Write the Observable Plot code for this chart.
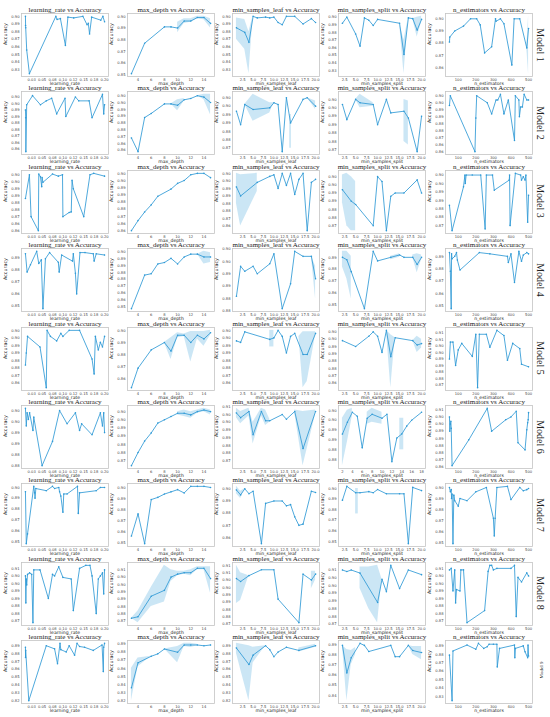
<!DOCTYPE html>
<html><head><meta charset="utf-8">
<script src="https://cdn.jsdelivr.net/npm/d3@7"></script>
<script src="https://cdn.jsdelivr.net/npm/@observablehq/plot@0.6"></script>
<style>
body{margin:0;background:#fff;}
#wrap{position:relative;width:550px;height:717px;overflow:hidden;background:#fff;}
.pnl{position:absolute;}
.mlab{position:absolute;font-family:"Liberation Serif",serif;color:#222;white-space:nowrap;}
</style></head>
<body><div id="wrap"></div>
<script>
// ---------- hyper-parameter columns ----------
const colTitles = ["learning_rate vs Accuracy","max_depth vs Accuracy","min_samples_leaf vs Accuracy","min_samples_split vs Accuracy","n_estimators vs Accuracy"];
const colLabels = ["learning_rate","max_depth","min_samples_leaf","min_samples_split","n_estimators"];
const modelNames = ["Model 1","Model 2","Model 3","Model 4","Model 5","Model 6","Model 7","Model 8","Model 9"];

const lrTicks = [0.025,0.05,0.075,0.1,0.125,0.15,0.175,0.2];
const lrTickLabels = ["0.03","0.05","0.08","0.10","0.12","0.15","0.18","0.20"];
const mdTicks = [4,6,8,10,12,14];
const mdTickLabels = ["4","6","8","10","12","14"];
const leafTicks = [2.5,5,7.5,10,12.5,15,17.5,20];
const leafTickLabels = ["2.5","5.0","7.5","10.0","12.5","15.0","17.5","20.0"];
const splitTicks6 = [2,4,6,8,10,12,14,16,18];
const splitTickLabels6 = ["2","4","6","8","10","12","14","16","18"];
const neTicks = [100,200,300,400,500];
const neTickLabels = ["100","200","300","400","500"];

// ---------- Model 1 ----------
const m1_lr = [[0.010,0.900],[0.0103,0.888],[0.0106,0.885],[0.013,0.856],[0.0195,0.825],[0.083,0.900],[0.086,0.896],[0.094,0.897],[0.106,0.862],[0.112,0.899],[0.126,0.898],[0.148,0.900],[0.158,0.889],[0.161,0.891],[0.164,0.877],[0.169,0.899],[0.191,0.895],[0.196,0.900],[0.200,0.893]];
const m1_md = [[3,0.851],[5,0.877],[8,0.891],[9,0.891],[10,0.890],[11,0.896],[12,0.896],[13,0.899],[14,0.899],[15,0.894]];
const m1_md_band = [[10,0.886,0.895],[11,0.894,0.898],[12,0.895,0.898],[13,0.898,0.900],[14,0.897,0.900],[15,0.890,0.898]];
const m1_msl = [[1,0.885],[3,0.879],[4,0.866],[5,0.900],[6,0.898],[8,0.899],[9,0.898],[10,0.899],[11,0.892],[12,0.889],[13,0.900],[15,0.900],[17,0.890],[19,0.897],[20,0.892]];
const m1_msl_band = [[1,0.870,0.898],[3,0.857,0.896],[4,0.825,0.880],[5,0.900,0.900]];
const m1_mss = [[2,0.892],[3,0.900],[5,0.878],[6,0.862],[7,0.899],[8,0.896],[9,0.889],[10,0.897],[15,0.892],[16,0.851],[17,0.899],[18,0.898],[19,0.883],[20,0.897]];
const m1_mss_band = [[15,0.892,0.892],[16,0.826,0.870],[17,0.899,0.899],null,[18,0.898,0.898],[19,0.874,0.900],[20,0.893,0.901]];
const m1_ne = [[50,0.881],[52,0.885],[80,0.890],[130,0.894],[170,0.900],[205,0.900],[225,0.895],[250,0.872],[290,0.877],[312,0.900],[315,0.898],[340,0.900],[360,0.896],[405,0.862],[418,0.900],[450,0.900],[490,0.876],[500,0.892]];
const m1_ne_band = [[490,0.876,0.876],[500,0.855,0.902]];

// ---------- Model 2 ----------
const m2_lr = [[0.010,0.890],[0.0105,0.884],[0.011,0.858],[0.013,0.894],[0.027,0.901],[0.046,0.894],[0.060,0.897],[0.073,0.899],[0.085,0.887],[0.105,0.899],[0.107,0.885],[0.130,0.900],[0.138,0.897],[0.163,0.897],[0.170,0.884],[0.195,0.902],[0.198,0.887],[0.200,0.894]];
const m2_md = [[3,0.869],[4,0.859],[5,0.884],[6,0.887],[8,0.894],[9,0.894],[10,0.893],[11,0.897],[12,0.898],[13,0.900],[14,0.899],[15,0.895]];
const m2_md_band = [[9,0.894,0.894],[10,0.889,0.897],[11,0.896,0.898],null,[13,0.900,0.900],[14,0.897,0.901],[15,0.886,0.901]];
const m2_msl = [[1,0.892],[2,0.884],[3,0.896],[5,0.893],[9,0.894],[10,0.897],[11,0.896],[12,0.868],[13,0.900],[14,0.885],[17,0.899],[18,0.900],[20,0.895]];
const m2_msl_band = [[3,0.896,0.896],[5,0.886,0.902],[9,0.891,0.897],[10,0.897,0.897],null,[13.8,0.870,0.890],[14.2,0.870,0.890],null,[18,0.900,0.900],[20,0.893,0.898]];
const m2_mss = [[2,0.897],[3,0.888],[5,0.900],[6,0.898],[9,0.897],[10,0.885],[12,0.900],[13,0.892],[16,0.893],[17,0.889],[19,0.869],[20,0.890]];
const m2_mss_band = [[5,0.900,0.900],[6,0.895,0.903],[9,0.896,0.898],null,[16,0.875,0.900],[17,0.873,0.899]];
const m2_ne = [[50,0.893],[55,0.900],[195,0.860],[200,0.884],[205,0.900],[265,0.895],[290,0.887],[315,0.897],[325,0.897],[340,0.901],[360,0.887],[385,0.897],[420,0.868],[425,0.900],[445,0.897],[448,0.885],[455,0.892],[465,0.892],[475,0.901],[490,0.897],[500,0.897]];

// ---------- Model 3 ----------
const m3_lr = [[0.010,0.883],[0.0195,0.900],[0.0235,0.870],[0.041,0.860],[0.042,0.9005],[0.046,0.8986],[0.049,0.8915],[0.050,0.898],[0.052,0.8946],[0.075,0.9005],[0.089,0.899],[0.099,0.900],[0.100,0.870],[0.115,0.873],[0.120,0.8734],[0.122,0.896],[0.125,0.890],[0.150,0.870],[0.165,0.900],[0.174,0.901],[0.200,0.899]];
const m3_md = [[3,0.860],[4,0.867],[5,0.873],[6,0.878],[7,0.884],[9,0.889],[10,0.893],[11,0.895],[12,0.899],[13,0.900],[14,0.900],[15,0.897]];
const m3_msl = [[1,0.891],[2,0.885],[6,0.894],[9,0.898],[10,0.899],[11,0.890],[12,0.900],[13,0.892],[14,0.900],[15,0.886],[16,0.896],[17,0.900],[18,0.862],[19,0.894],[20,0.896]];
const m3_msl_band = [[1,0.880,0.900],[2,0.865,0.899],[6,0.888,0.900]];
const m3_mss = [[2,0.892],[4,0.885],[5,0.883],[9,0.870],[10,0.900],[11,0.897],[12,0.867],[13,0.888],[14,0.890],[16,0.890],[19,0.898],[20,0.890]];
const m3_mss_band = [[2,0.884,0.901],[3,0.870,0.902],[4,0.867,0.900],[5,0.867,0.897]];
const m3_ne = [[50,0.882],[65,0.867],[130,0.893],[138,0.900],[140,0.895],[145,0.900],[180,0.900],[228,0.900],[253,0.868],[260,0.900],[295,0.900],[305,0.891],[390,0.897],[392,0.900],[395,0.870],[425,0.901],[455,0.900],[460,0.897],[470,0.899],[480,0.897],[485,0.900],[495,0.872],[500,0.888]];

// ---------- Model 4 ----------
const m4_lr = [[0.010,0.893],[0.014,0.878],[0.022,0.884],[0.037,0.895],[0.042,0.885],[0.048,0.888],[0.052,0.848],[0.058,0.889],[0.068,0.894],[0.089,0.886],[0.091,0.878],[0.097,0.892],[0.123,0.887],[0.125,0.893],[0.130,0.877],[0.133,0.860],[0.141,0.894],[0.153,0.894],[0.173,0.893],[0.175,0.887],[0.180,0.893],[0.200,0.892]];
const m4_md = [[3,0.854],[5,0.878],[6,0.879],[7,0.886],[8,0.887],[9,0.890],[10,0.886],[11,0.891],[12,0.893],[13,0.893],[14,0.891],[15,0.891]];
const m4_md_band = [[13,0.893,0.893],[14,0.886,0.895],[15,0.887,0.894]];
const m4_msl = [[1,0.881],[2,0.893],[3,0.891],[5,0.893],[6,0.890],[9,0.894],[10,0.898],[12,0.876],[14,0.886],[15,0.899],[17,0.897],[19,0.897],[20,0.888]];
const m4_msl_band = [[19,0.897,0.897],[20,0.880,0.893]];
const m4_mss = [[2,0.890],[3,0.888],[4,0.878],[7,0.847],[9,0.895],[10,0.887],[13,0.890],[15,0.892],[16,0.890],[18,0.890],[19,0.884],[20,0.890]];
const m4_mss_band = [[2,0.882,0.895],[3,0.872,0.895],[4,0.855,0.891],null,[13,0.888,0.891],[15,0.890,0.893],null,[18,0.890,0.892],[19,0.877,0.893],[20,0.888,0.892]];
const m4_ne = [[50,0.893],[55,0.878],[60,0.848],[62,0.892],[65,0.888],[80,0.890],[90,0.893],[95,0.887],[110,0.879],[220,0.893],[280,0.892],[380,0.890],[385,0.885],[400,0.892],[420,0.869],[445,0.894],[460,0.886],[470,0.891],[490,0.893],[500,0.892]];

// ---------- Model 5 ----------
const m5_lr = [[0.010,0.877],[0.012,0.885],[0.015,0.896],[0.045,0.889],[0.060,0.862],[0.062,0.900],[0.070,0.896],[0.085,0.893],[0.095,0.898],[0.100,0.896],[0.115,0.900],[0.140,0.900],[0.170,0.881],[0.175,0.871],[0.178,0.896],[0.185,0.887],[0.190,0.892],[0.195,0.889],[0.200,0.896]];
const m5_md = [[3,0.853],[4,0.869],[6,0.884],[8,0.890],[9,0.883],[10,0.896],[11,0.896],[12,0.890],[13,0.896],[14,0.893],[15,0.898]];
const m5_md_band = [[8,0.890,0.890],[9,0.876,0.894],[10,0.894,0.898],[11,0.895,0.897],[12,0.874,0.899],[13,0.893,0.899],[14,0.887,0.899],[15,0.896,0.900]];
const m5_msl = [[1,0.893],[2,0.892],[3,0.899],[9,0.894],[10,0.895],[11,0.900],[12,0.896],[13,0.885],[14,0.896],[15,0.898],[17,0.884],[18,0.884],[20,0.898]];
const m5_msl_band = [[9,0.889,0.900],[10,0.889,0.900],null,[16,0.896,0.896],[17,0.862,0.899],[18,0.866,0.899],[20,0.897,0.899]];
const m5_mss = [[2,0.894],[5,0.890],[8,0.897],[9,0.900],[10,0.897],[11,0.886],[12,0.901],[13,0.883],[14,0.896],[18,0.894],[19,0.891],[20,0.892]];
const m5_mss_band = [[12,0.901,0.901],[13,0.862,0.898],[14,0.896,0.896],null,[18,0.894,0.894],[19,0.886,0.897],[20,0.889,0.895]];
const m5_ne = [[50,0.890],[55,0.903],[70,0.903],[85,0.885],[100,0.897],[120,0.902],[180,0.892],[200,0.909],[210,0.868],[220,0.909],[260,0.909],[280,0.899],[320,0.912],[360,0.908],[380,0.889],[410,0.902],[450,0.898],[460,0.886],[500,0.884]];

// ---------- Model 6 ----------
const m6_lr = [[0.010,0.901],[0.012,0.893],[0.014,0.899],[0.017,0.896],[0.020,0.899],[0.028,0.891],[0.030,0.897],[0.050,0.875],[0.075,0.886],[0.092,0.900],[0.110,0.894],[0.130,0.899],[0.140,0.891],[0.145,0.894],[0.170,0.889],[0.190,0.899],[0.195,0.893],[0.198,0.899],[0.200,0.890]];
const m6_md = [[3,0.867],[4,0.875],[5,0.882],[6,0.887],[7,0.893],[8,0.895],[9,0.897],[10,0.899],[11,0.899],[12,0.898],[13,0.900],[14,0.901],[15,0.900]];
const m6_md_band = [[10,0.898,0.900],[11,0.897,0.901],[12,0.896,0.900],[13,0.899,0.901],[14,0.900,0.902],[15,0.898,0.901]];
const m6_msl = [[1,0.901],[2,0.898],[4,0.902],[5,0.887],[7,0.902],[8,0.896],[9,0.896],[12,0.900],[13,0.897],[15,0.902],[17,0.878],[20,0.902]];
const m6_msl_band = [[1,0.898,0.904],[2,0.894,0.902],[4,0.899,0.904],[5,0.881,0.895],[7,0.899,0.904],[8,0.893,0.903],[9,0.895,0.897],null,[15,0.901,0.903],[17,0.867,0.902],[20,0.900,0.903]];
const m6_mss = [[2,0.888],[3,0.894],[4,0.899],[5,0.897],[6,0.881],[7,0.896],[8,0.898],[10,0.896],[11,0.898],[12,0.874],[13,0.886],[14,0.888],[15,0.892],[16,0.895],[18,0.899]];
const m6_mss_band = [[2,0.872,0.896],[3,0.884,0.900],[4,0.897,0.901],null,[7,0.893,0.899],[8,0.894,0.901],[10,0.893,0.899],null,[13.6,0.880,0.896],[14.4,0.880,0.896]];
const m6_ne = [[50,0.900],[52,0.890],[55,0.895],[58,0.897],[60,0.892],[65,0.866],[160,0.884],[265,0.906],[290,0.890],[370,0.898],[400,0.900],[430,0.904],[440,0.882],[480,0.877],[490,0.891],[495,0.896],[498,0.898],[500,0.903]];

// ---------- Model 7 ----------
const m7_lr = [[0.010,0.896],[0.012,0.848],[0.015,0.857],[0.030,0.901],[0.032,0.895],[0.033,0.890],[0.035,0.899],[0.060,0.897],[0.075,0.901],[0.080,0.899],[0.090,0.900],[0.092,0.896],[0.095,0.892],[0.100,0.877],[0.102,0.894],[0.110,0.894],[0.135,0.901],[0.137,0.876],[0.140,0.895],[0.180,0.897],[0.190,0.900],[0.200,0.900]];
const m7_md = [[3,0.856],[4,0.876],[5,0.849],[6,0.889],[7,0.891],[8,0.894],[9,0.896],[10,0.898],[11,0.895],[12,0.901],[13,0.901],[14,0.901],[15,0.900]];
const m7_msl = [[1,0.899],[2,0.895],[3,0.900],[4,0.896],[5,0.898],[7,0.855],[8,0.888],[10,0.890],[12,0.890],[13,0.886],[14,0.887],[15,0.877],[16,0.870],[17,0.871],[19,0.898],[20,0.897]];
const m7_msl_band = [[1,0.896,0.902],[2,0.892,0.898],[3,0.900,0.900]];
const m7_mss = [[2,0.889],[3,0.902],[5,0.896],[6,0.896],[8,0.897],[9,0.896],[10,0.899],[12,0.895],[15,0.895],[16,0.895],[17,0.848],[18,0.901],[20,0.898]];
const m7_mss_band = [[5,0.876,0.900],[5.6,0.876,0.900]];
const m7_ne = [[50,0.900],[55,0.896],[60,0.898],[62,0.890],[65,0.894],[70,0.849],[75,0.893],[80,0.888],[100,0.883],[110,0.890],[150,0.888],[200,0.896],[260,0.900],[300,0.872],[305,0.856],[310,0.872],[320,0.900],[380,0.901],[400,0.889],[450,0.900],[470,0.897],[490,0.898],[500,0.899]];

// ---------- Model 8 ----------
const m8_lr = [[0.010,0.900],[0.011,0.882],[0.012,0.898],[0.013,0.894],[0.015,0.901],[0.020,0.902],[0.025,0.901],[0.028,0.869],[0.030,0.904],[0.045,0.904],[0.065,0.885],[0.075,0.901],[0.080,0.900],[0.090,0.906],[0.100,0.899],[0.120,0.898],[0.125,0.877],[0.140,0.905],[0.155,0.907],[0.165,0.907],[0.170,0.900],[0.180,0.875],[0.185,0.898],[0.190,0.900],[0.195,0.902],[0.198,0.888],[0.200,0.904]];
const m8_md = [[3,0.872],[4,0.873],[6,0.887],[8,0.891],[9,0.900],[10,0.902],[11,0.903],[12,0.903],[13,0.906],[14,0.906],[15,0.899]];
const m8_md_band = [[3,0.872,0.872],[4,0.869,0.877],[6,0.880,0.893],[8,0.883,0.908],[9,0.897,0.905],[10,0.901,0.904],[11,0.902,0.904],[12,0.901,0.905],[13,0.905,0.907],[14,0.905,0.907],[15,0.889,0.907]];
const m8_msl = [[1,0.901],[2,0.899],[4,0.903],[7,0.907],[10,0.907],[11,0.887],[16,0.871],[17,0.904],[19,0.900],[20,0.904]];
const m8_msl_band = [[1,0.884,0.910],[2,0.886,0.905],[4,0.903,0.903],null,[19,0.894,0.906],[20,0.900,0.906]];
const m8_mss = [[2,0.905],[3,0.904],[4,0.905],[6,0.903],[10,0.884],[11,0.899],[12,0.891],[13,0.908],[15,0.893],[17,0.905],[20,0.902]];
const m8_mss_band = [[6,0.893,0.907],[8,0.880,0.907],[10,0.871,0.908],[11,0.899,0.899]];
const m8_ne = [[50,0.904],[60,0.905],[70,0.890],[80,0.904],[85,0.882],[90,0.891],[110,0.890],[115,0.904],[130,0.904],[150,0.869],[250,0.877],[270,0.903],[280,0.907],[290,0.907],[300,0.904],[320,0.905],[400,0.905],[420,0.907],[430,0.873],[440,0.899],[460,0.896],[490,0.902],[500,0.900]];

// ---------- Model 9 ----------
const m9_lr = [[0.010,0.888],[0.0102,0.875],[0.0105,0.884],[0.018,0.820],[0.060,0.890],[0.080,0.886],[0.087,0.867],[0.093,0.893],[0.095,0.885],[0.108,0.882],[0.115,0.890],[0.128,0.878],[0.134,0.893],[0.140,0.889],[0.152,0.888],[0.173,0.884],[0.194,0.891],[0.197,0.857],[0.198,0.888],[0.200,0.893]];
const m9_md = [[3,0.836],[4,0.867],[6,0.875],[7,0.878],[8,0.884],[10,0.880],[11,0.889],[12,0.889],[13,0.889],[14,0.888],[15,0.889]];
const m9_md_band = [[3,0.820,0.860],[4,0.862,0.873],[6,0.875,0.875],null,[8,0.884,0.884],[10,0.867,0.887],[11,0.887,0.891],[12,0.886,0.891],[13,0.888,0.890]];
const m9_msl = [[1,0.887],[4,0.866],[5,0.878],[8,0.890],[9,0.885],[10,0.876],[11,0.882],[13,0.888],[16,0.884],[20,0.890]];
const m9_msl_band = [[1,0.880,0.893],[4,0.820,0.890],[5,0.868,0.888],[8,0.890,0.890],null,[16,0.882,0.887],[20,0.888,0.892]];
const m9_mss = [[2,0.889],[3,0.862],[4,0.877],[6,0.891],[7,0.889],[8,0.883],[13,0.889],[14,0.878],[15,0.878],[17,0.889],[18,0.884],[20,0.882]];
const m9_mss_band = [[2,0.889,0.889],[3,0.835,0.885],[4,0.870,0.884],[5,0.880,0.887],null,[17,0.889,0.889],[18,0.880,0.888],[20,0.875,0.888]];
const m9_ne = [[50,0.879],[65,0.825],[70,0.884],[150,0.891],[200,0.886],[215,0.893],[245,0.887],[265,0.889],[275,0.892],[300,0.892],[320,0.892],[322,0.865],[335,0.887],[420,0.891],[422,0.876],[425,0.887],[470,0.890],[480,0.883],[495,0.876],[497,0.891],[500,0.878]];

// ---------- assemble ----------
const lines = [
  [m1_lr,m1_md,m1_msl,m1_mss,m1_ne],
  [m2_lr,m2_md,m2_msl,m2_mss,m2_ne],
  [m3_lr,m3_md,m3_msl,m3_mss,m3_ne],
  [m4_lr,m4_md,m4_msl,m4_mss,m4_ne],
  [m5_lr,m5_md,m5_msl,m5_mss,m5_ne],
  [m6_lr,m6_md,m6_msl,m6_mss,m6_ne],
  [m7_lr,m7_md,m7_msl,m7_mss,m7_ne],
  [m8_lr,m8_md,m8_msl,m8_mss,m8_ne],
  [m9_lr,m9_md,m9_msl,m9_mss,m9_ne]
];
const bands = [
  [[],m1_md_band,m1_msl_band,m1_mss_band,m1_ne_band],
  [[],m2_md_band,m2_msl_band,m2_mss_band,[]],
  [[],[],m3_msl_band,m3_mss_band,[]],
  [[],m4_md_band,m4_msl_band,m4_mss_band,[]],
  [[],m5_md_band,m5_msl_band,m5_mss_band,[]],
  [[],m6_md_band,m6_msl_band,m6_mss_band,[]],
  [[],[],m7_msl_band,m7_mss_band,[]],
  [[],m8_md_band,m8_msl_band,m8_mss_band,[]],
  [[],m9_md_band,m9_msl_band,m9_mss_band,[]]
];

function xConfig(col, row) {
  if (col === 0) return {ticks: lrTicks, labels: lrTickLabels, domain: [0.0005, 0.2095]};
  if (col === 1) return {ticks: mdTicks, labels: mdTickLabels, domain: [2.4, 15.6]};
  if (col === 2) return {ticks: leafTicks, labels: leafTickLabels, domain: [0.05, 20.95]};
  if (col === 3) return row === 5
    ? {ticks: splitTicks6, labels: splitTickLabels6, domain: [1.2, 18.8]}
    : {ticks: leafTicks, labels: leafTickLabels, domain: [1.1, 20.9]};
  return {ticks: neTicks, labels: neTickLabels, domain: [27.5, 522.5]};
}

const COLOR = "#2f9ad6";
const frameLefts = [21, 127, 232, 338, 445];
const FW = 87, FH = 63;
const wrap = document.getElementById("wrap");

for (let r = 0; r < 9; r++) {
  const top = 13 + 78.4 * r;
  for (let c = 0; c < 5; c++) {
    const pts = lines[r][c].map(d => ({x: d[0], y: d[1]}));
    let seg = 0; const bRows = [];
    for (const b of bands[r][c]) { if (b === null) { seg++; continue; } bRows.push({x: b[0], lo: b[1], hi: b[2], seg}); }
    const allY = pts.map(d => d.y).concat(bRows.flatMap(d => [d.lo, d.hi]));
    const lo = d3.min(allY), hi = d3.max(allY), pad = (hi - lo) * 0.05;
    const xc = xConfig(c, r);
    const chart = Plot.plot({
      width: 21 + FW + 4, height: 13 + FH + 16,
      marginLeft: 21, marginRight: 4, marginTop: 13, marginBottom: 16,
      style: {background: "transparent", overflow: "visible", fontSize: "3.7px", fontFamily: "DejaVu Sans", color: "#444"},
      x: {domain: xc.domain, ticks: xc.ticks, tickFormat: d => xc.labels[xc.ticks.indexOf(d)], tickSize: 0, tickPadding: 1.5, label: null},
      y: {domain: [lo - pad, hi + pad], ticks: 7, tickFormat: ".2f", tickSize: 0, tickPadding: 2, label: null},
      marks: [
        Plot.frame({stroke: "#c4c4c4", strokeWidth: 0.8}),
        Plot.areaY(bRows, {x: "x", y1: "lo", y2: "hi", z: "seg", fill: COLOR, fillOpacity: 0.25}),
        Plot.lineY(pts, {x: "x", y: "y", stroke: COLOR, strokeWidth: 0.85}),
        Plot.dot(pts, {x: "x", y: "y", r: 0.8, fill: COLOR}),
        Plot.text([colTitles[c]], {text: d => d, frameAnchor: "top", dy: -1.2, lineAnchor: "bottom", fontSize: 7, fontFamily: "Liberation Serif", fill: "#1a1a1a"}),
        Plot.text([colLabels[c]], {text: d => d, frameAnchor: "bottom", dy: 5.6, lineAnchor: "top", fontSize: 4.6, fill: "#1a1a1a"}),
        Plot.text(["Accuracy"], {text: d => d, frameAnchor: "left", dx: -16.5, rotate: -90, fontSize: 4.8, fill: "#1a1a1a"})
      ]
    });
    chart.classList.add("pnl");
    chart.style.left = (frameLefts[c] - 21) + "px";
    chart.style.top = (top - 13) + "px";
    wrap.appendChild(chart);
  }
  const lab = document.createElement("div");
  lab.className = "mlab";
  lab.textContent = modelNames[r];
  if (r < 8) {
    lab.style.fontSize = "10px";
    lab.style.left = "540px";
    lab.style.top = (top + FH / 2) + "px";
    lab.style.transform = "translate(-50%,-50%) rotate(90deg)";
  } else {
    lab.style.fontSize = "5px";
    lab.style.left = "541px";
    lab.style.top = (top + FH / 2 - 2) + "px";
    lab.style.transform = "translate(-50%,-50%) rotate(-90deg)";
  }
  wrap.appendChild(lab);
}
</script></body></html>
